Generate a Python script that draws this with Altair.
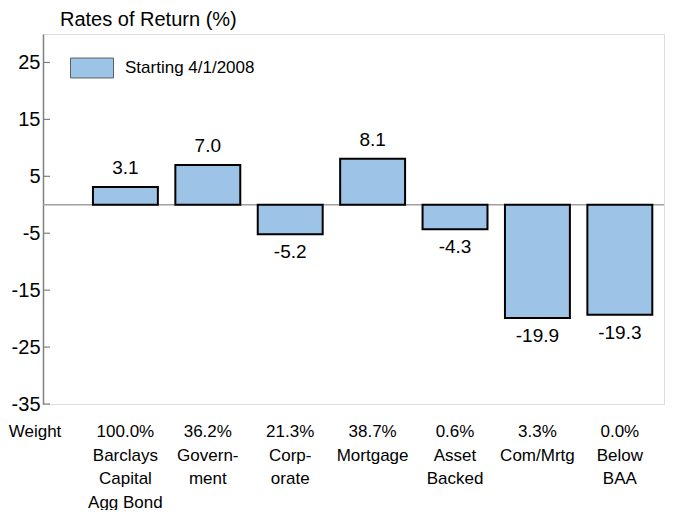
import altair as alt
import pandas as pd

categories = ["Barclays\nCapital\nAgg Bond", "Govern-\nment", "Corp-\norate", "Mortgage",
              "Asset\nBacked", "Com/Mrtg", "Below\nBAA"]
weights = ["100.0%", "36.2%", "21.3%", "38.7%", "0.6%", "3.3%", "0.0%"]
returns = [3.1, 7.0, -5.2, 8.1, -4.3, -19.9, -19.3]
series_name = "Starting 4/1/2008"
y_ticks = [25, 15, 5, -5, -15, -25, -35]

FONT = "Liberation Sans, Arial, sans-serif"
W, H = 621, 370
HALF = 0.394

df = pd.DataFrame({
    "idx": list(range(1, len(categories) + 1)),
    "cat": categories,
    "weight": weights,
    "ret": returns,
})
df["x0"] = df["idx"] - HALF
df["x1"] = df["idx"] + HALF
df["label"] = df["ret"].map(lambda v: f"{v:.1f}")
df["bottom"] = df["weight"] + "\n" + df["cat"]
df["series"] = series_name

xs = alt.Scale(domain=[0, 7.536], nice=False, zero=False)
ys = alt.Scale(domain=[-35, 30], nice=False, zero=False)
yaxis = alt.Axis(values=y_ticks, ticks=False, grid=False, title=None,
                 domainColor="#808080", domainWidth=1.5,
                 labelFont=FONT, labelFontSize=20, labelColor="black",
                 labelPadding=3,
                 labelExpr="datum.value < 0 ? '-' + abs(datum.value) : '' + datum.value")

base = alt.Chart(df)

zero = alt.Chart(pd.DataFrame({"y": [0]})).mark_rule(color="#a0a0a0", strokeWidth=1.5).encode(
    y=alt.Y("y:Q", scale=ys, axis=yaxis), x=alt.value(0), x2=alt.value(W))

bars = base.mark_rect(stroke="black", strokeWidth=2).encode(
    x=alt.X("x0:Q", scale=xs, axis=None),
    x2="x1:Q",
    y=alt.Y("ret:Q", scale=ys, axis=yaxis),
    y2=alt.datum(0),
    fill=alt.Fill("series:N",
                  scale=alt.Scale(range=["#9dc3e6"]),
                  legend=alt.Legend(title=None, orient="none", legendX=27, legendY=12,
                                    symbolType="M-1,-0.465H1V0.465H-1Z", symbolSize=1849,
                                    symbolStrokeColor="#606060", symbolStrokeWidth=1,
                                    symbolFillColor="#9dc3e6", labelFont=FONT,
                                    labelFontSize=17, labelColor="black", labelOffset=11,
                                    padding=0)),
)

tickrules = alt.Chart(pd.DataFrame({"t": y_ticks})).mark_rule(color="#808080", strokeWidth=1.2).encode(
    y=alt.Y("t:Q", scale=ys, axis=yaxis), x=alt.value(0), x2=alt.value(7))

pos_lbl = base.transform_filter("datum.ret >= 0").mark_text(
    font=FONT, fontSize=19, dy=-19, baseline="middle", color="black").encode(
    x=alt.X("idx:Q", scale=xs), y=alt.Y("ret:Q", scale=ys, axis=yaxis), text="label:N")

neg_lbl = base.transform_filter("datum.ret < 0").mark_text(
    font=FONT, fontSize=19, dy=18, baseline="middle", color="black").encode(
    x=alt.X("idx:Q", scale=xs), y=alt.Y("ret:Q", scale=ys, axis=yaxis), text="label:N")

bottom_lbl = base.mark_text(
    font=FONT, fontSize=17, lineBreak="\n", lineHeight=23.5, baseline="alphabetic",
    align="center", color="black").encode(
    x=alt.X("idx:Q", scale=xs), y=alt.value(403), text="bottom:N")

weight_lbl = alt.Chart(pd.DataFrame({"t": ["Weight"]})).mark_text(
    font=FONT, fontSize=17, baseline="alphabetic", align="center", color="black").encode(
    x=alt.value(-8), y=alt.value(403), text="t:N")

title = alt.Chart(pd.DataFrame({"t": ["Rates of Return (%)"]})).mark_text(
    font=FONT, fontSize=20, baseline="middle", align="left", color="black").encode(
    x=alt.value(17), y=alt.value(-14), text="t:N")

chart = alt.layer(zero, bars, tickrules, pos_lbl, neg_lbl, bottom_lbl, weight_lbl, title).properties(
    width=W, height=H, autosize=alt.AutoSizeParams(type="none"),
    padding={"left": 35, "top": 26, "right": 1, "bottom": 106},
).configure_view(stroke="#808080", strokeWidth=1.5).configure(background="white")

chart.save("out.html", embed_options={"renderer": "svg", "actions": False})
